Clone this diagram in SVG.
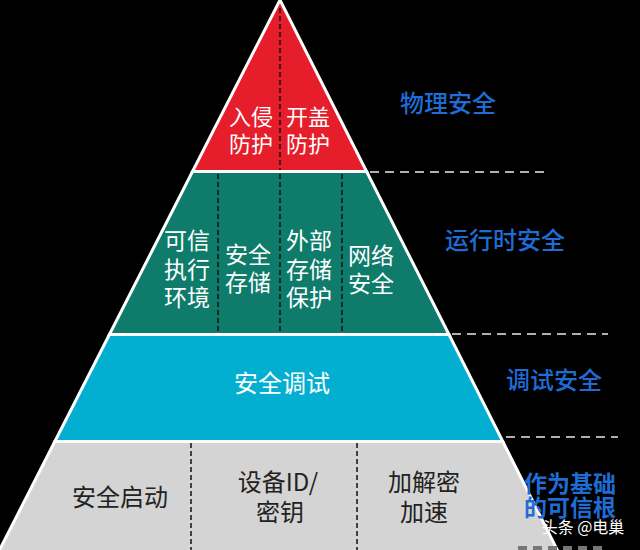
<svg xmlns="http://www.w3.org/2000/svg" width="640" height="550" viewBox="0 0 640 550">
<style>
.layer{stroke:#ffffff;stroke-width:3;stroke-linejoin:miter}
.t{font-family:"Noto Sans CJK SC","Noto Sans",sans-serif;text-anchor:middle}
.w{fill:#ffffff;font-size:22px}
.g{fill:#ffffff;font-size:23px}
.k{fill:#222222;font-size:24px}
.b{fill:#1e6cd4;font-size:24px;text-anchor:start;font-weight:500}
.div{stroke:#111111;stroke-width:1.5;stroke-dasharray:5 3;fill:none}
.sep{stroke:#b0b0b0;stroke-width:2;stroke-dasharray:9 6;fill:none}
</style>
<rect width="640" height="550" fill="#000000"/>
<g id="layer-physical">
<polygon class="layer" fill="#e61e2b" points="280,0 192.5,171.5 366.6,171.5"/>
<line class="div" x1="280" y1="8" x2="280" y2="170" stroke="#3a0000"/>
<text class="t w" x="251" y="125"><tspan x="251">入侵</tspan><tspan x="251" dy="27">防护</tspan></text>
<text class="t w" x="308" y="125"><tspan x="308">开盖</tspan><tspan x="308" dy="27">防护</tspan></text>
</g>
<g id="layer-runtime">
<polygon class="layer" fill="#0e7b6b" points="192.5,171.5 366.6,171.5 449,334.5 109.4,334.5"/>
<line class="div" x1="218" y1="174" x2="218" y2="334"/>
<line class="div" x1="280" y1="174" x2="280" y2="334"/>
<line class="div" x1="342" y1="174" x2="342" y2="334"/>
<text class="t g" x="187" y="249"><tspan x="187">可信</tspan><tspan x="187" dy="28.5">执行</tspan><tspan x="187" dy="28.5">环境</tspan></text>
<text class="t g" x="248" y="263"><tspan x="248">安全</tspan><tspan x="248" dy="28">存储</tspan></text>
<text class="t g" x="309" y="249"><tspan x="309">外部</tspan><tspan x="309" dy="28.5">存储</tspan><tspan x="309" dy="28.5">保护</tspan></text>
<text class="t g" x="371" y="264"><tspan x="371">网络</tspan><tspan x="371" dy="28">安全</tspan></text>
</g>
<g id="layer-debug">
<polygon class="layer" fill="#03afd1" points="109.4,334.5 449,334.5 502.8,441.5 54.8,441.5"/>
<text class="t w" x="282" y="392" style="font-size:24px">安全调试</text>
</g>
<g id="layer-root">
<polygon class="layer" fill="#d4d4d4" points="54.8,441.5 502.8,441.5 558.8,553 -2,553"/>
<line class="div" x1="191" y1="443" x2="191" y2="550"/>
<line class="div" x1="357" y1="443" x2="357" y2="550"/>
<text class="t k" x="120" y="506">安全启动</text>
<text class="t k" x="279" y="491"><tspan x="278">设备ID/</tspan><tspan x="280" dy="30">密钥</tspan></text>
<text class="t k" x="424" y="491"><tspan x="424">加解密</tspan><tspan x="424" dy="30">加速</tspan></text>
</g>
<g id="connectors">
<line class="sep" x1="370" y1="172" x2="550" y2="172"/>
<line class="sep" x1="452" y1="334" x2="608" y2="334"/>
<line class="sep" x1="506" y1="437" x2="618" y2="437"/>
<line x1="518" y1="548" x2="602" y2="548" stroke="#777777" stroke-width="4" stroke-dasharray="9 6"/>
</g>
<g id="labels">
<text class="t b" x="400" y="112">物理安全</text>
<text class="t b" x="445" y="249">运行时安全</text>
<text class="t b" x="506" y="389">调试安全</text>
<text class="t b" x="524" y="492" style="font-weight:bold;font-size:23px"><tspan x="524">作为基础</tspan><tspan x="524" dy="24">的可信根</tspan></text>
<text class="t" x="583" y="533" style="font-size:16px;fill:#ffffff">头条 @电巢</text>
</g>
</svg>
